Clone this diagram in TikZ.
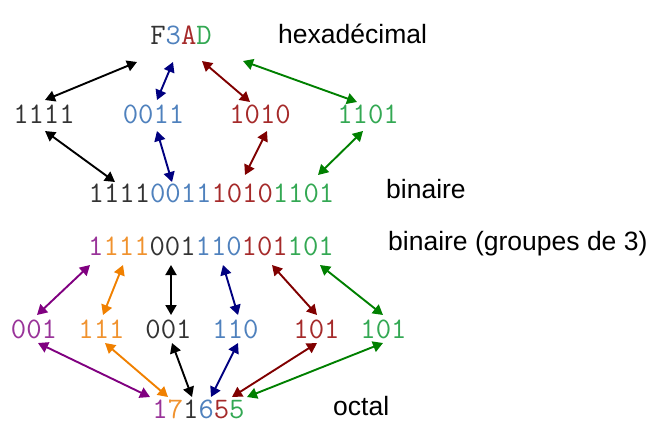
\documentclass[tikz,border=0pt]{standalone}
\usepackage{fontspec}
\setmainfont{Liberation Sans}
\usetikzlibrary{arrows.meta}
\definecolor{tblack}{HTML}{333333}
\definecolor{tblue}{HTML}{4F81BD}
\definecolor{tred}{HTML}{A52A2A}
\definecolor{tgreen}{HTML}{33A853}
\definecolor{tpurple}{HTML}{993399}
\definecolor{torange}{HTML}{F0922E}
\definecolor{anavy}{HTML}{000080}
\definecolor{ared}{HTML}{800000}
\definecolor{agreen}{HTML}{008000}
\definecolor{apurple}{HTML}{800080}
\definecolor{aorange}{HTML}{F08000}
\tikzset{
  num/.style={inner sep=0pt, anchor=base, font=\ttfamily\fontsize{29.8}{32}\selectfont, text=tblack},
  lbl/.style={inner sep=0pt, anchor=base west, font=\fontsize{26.5}{30}\selectfont, text=black},
  conn/.style={line width=1.9pt, {Triangle[length=10pt,width=11pt]}-{Triangle[length=10pt,width=11pt]}},
}
\begin{document}
\begin{tikzpicture}[x=1pt,y=-1pt]
\useasboundingbox (0,0) rectangle (658,437);
% texts
\node[num] (hex) at (181,44) {F\textcolor{tblue}{3}\textcolor{tred}{A}\textcolor{tgreen}{D}};
\node[num] (q1) at (44,123) {1111};
\node[num,text=tblue] (q2) at (153.5,123) {0011};
\node[num,text=tred] (q3) at (260,123) {1010};
\node[num,text=tgreen] (q4) at (368,123) {1101};
\node[num] (bin) at (211.5,202) {1111\textcolor{tblue}{0011}\textcolor{tred}{1010}\textcolor{tgreen}{1101}};
\node[num] (bin3) at (211,255) {\textcolor{tpurple}{1}\textcolor{torange}{111}001\textcolor{tblue}{110}\textcolor{tred}{101}\textcolor{tgreen}{101}};
\node[num,text=tpurple] (t1) at (34,338) {001};
\node[num,text=torange] (t2) at (101.5,338) {111};
\node[num] (t3) at (168.5,338) {001};
\node[num,text=tblue] (t4) at (235.5,338) {110};
\node[num,text=tred] (t5) at (316.5,338) {101};
\node[num,text=tgreen] (t6) at (383.5,338) {101};
\node[num] (oct) at (198.5,418) {\textcolor{tpurple}{1}\textcolor{torange}{7}1\textcolor{tblue}{6}\textcolor{tred}{5}\textcolor{tgreen}{5}};
\node[lbl] (lhex) at (278,43) {hexadécimal};
\node[lbl] (lbin) at (386,198) {binaire};
\node[lbl] (lbin3) at (388,250) {binaire (groupes de 3)};
\node[lbl] (loct) at (333,415) {octal};
% arrow end points
\coordinate (hF) at (137,62); \coordinate (q1t) at (45,100);
\coordinate (h3) at (173,62); \coordinate (q2t) at (157,100);
\coordinate (hA) at (202,61); \coordinate (q3t) at (250,102);
\coordinate (hD) at (243,61); \coordinate (q4t) at (357,102);
\coordinate (q1b) at (45,131); \coordinate (b1) at (115,182);
\coordinate (q2b) at (157,131); \coordinate (b2) at (172,182);
\coordinate (q3b) at (267,131); \coordinate (b3) at (245,175);
\coordinate (q4b) at (363,131); \coordinate (b4) at (318,175);
\coordinate (c1) at (90,265); \coordinate (t1t) at (37,315);
\coordinate (c2) at (123,265); \coordinate (t2t) at (103,315);
\coordinate (c3) at (171,265); \coordinate (t3t) at (171,315);
\coordinate (c4) at (223,265); \coordinate (t4t) at (238,315);
\coordinate (c5) at (272,265); \coordinate (t5t) at (317,315);
\coordinate (c6) at (320,265); \coordinate (t6t) at (383,315);
\coordinate (t1b) at (38,343); \coordinate (o1) at (150,397);
\coordinate (t2b) at (105,343); \coordinate (o2) at (168,397);
\coordinate (t3b) at (172,343); \coordinate (o3) at (192,397);
\coordinate (t4b) at (238,343); \coordinate (o4) at (211,397);
\coordinate (t5b) at (317,343); \coordinate (o5) at (232,397);
\coordinate (t6b) at (383,343); \coordinate (o6) at (247,397);
% connectors
\draw[conn,black] (hF) -- (q1t);
\draw[conn,anavy] (h3) -- (q2t);
\draw[conn,ared] (hA) -- (q3t);
\draw[conn,agreen] (hD) -- (q4t);
\draw[conn,black] (q1b) -- (b1);
\draw[conn,anavy] (q2b) -- (b2);
\draw[conn,ared] (q3b) -- (b3);
\draw[conn,agreen] (q4b) -- (b4);
\draw[conn,apurple] (c1) -- (t1t);
\draw[conn,aorange] (c2) -- (t2t);
\draw[conn,black] (c3) -- (t3t);
\draw[conn,anavy] (c4) -- (t4t);
\draw[conn,ared] (c5) -- (t5t);
\draw[conn,agreen] (c6) -- (t6t);
\draw[conn,apurple] (t1b) -- (o1);
\draw[conn,aorange] (t2b) -- (o2);
\draw[conn,black] (t3b) -- (o3);
\draw[conn,anavy] (t4b) -- (o4);
\draw[conn,ared] (t5b) -- (o5);
\draw[conn,agreen] (t6b) -- (o6);
\end{tikzpicture}
\end{document}
